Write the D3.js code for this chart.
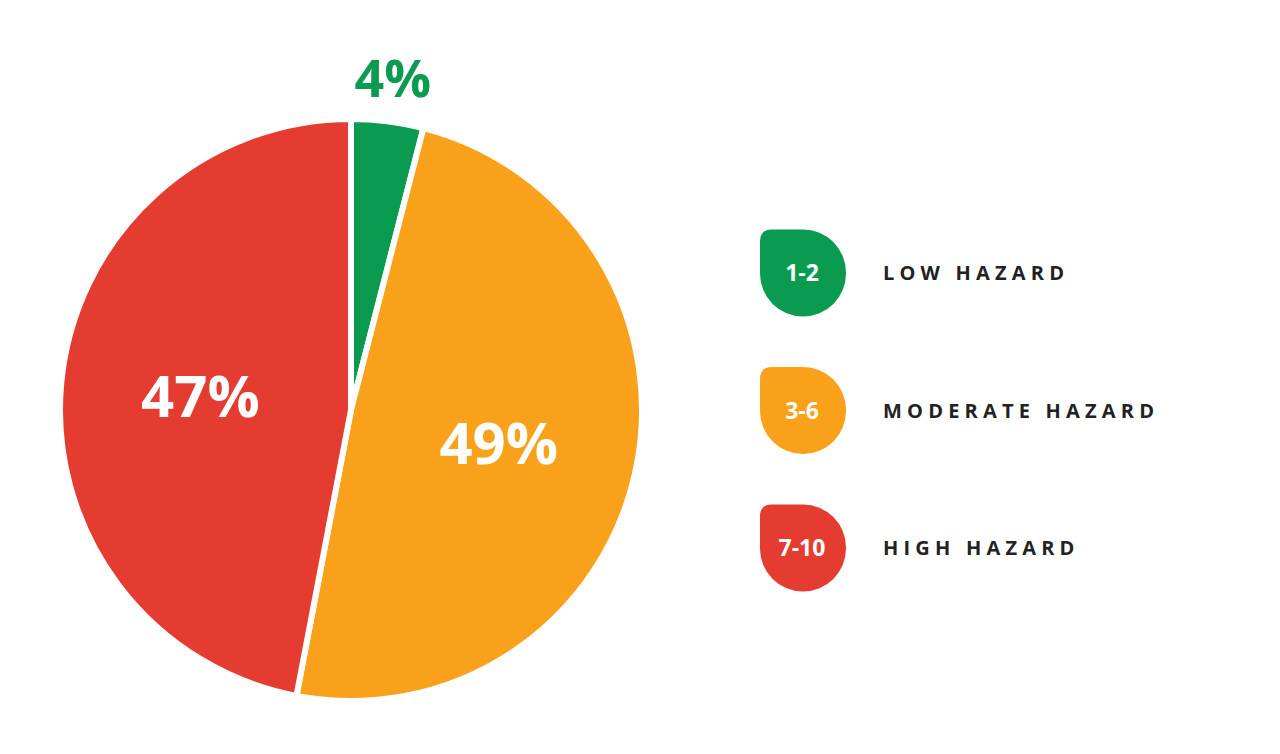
<!DOCTYPE html>
<html><head><meta charset="utf-8">
<script src="https://cdn.jsdelivr.net/npm/d3@7"></script>
<style>body{margin:0;background:#fff}svg{display:block}</style>
</head><body>
<script>
// hazard share data
var ranges = ["1-2", "3-6", "7-10"];
var labels = ["LOW HAZARD", "MODERATE HAZARD", "HIGH HAZARD"];
var values = [4, 49, 47];
var colors = ["#0b9b50", "#f9a11b", "#e43c30"];

var svg = d3.select("body").append("svg").attr("width", 1280).attr("height", 754);
var cx = 351, cy = 410, r = 291;

var pie = d3.pie().sort(null)(values);
var arc = d3.arc().innerRadius(0).outerRadius(r);
var g = svg.append("g").attr("transform", "translate(" + cx + "," + cy + ")");
g.selectAll("path").data(pie).enter().append("path")
    .attr("d", arc)
    .attr("fill", function(d, i) { return colors[i]; })
    .attr("stroke", "#fff").attr("stroke-width", 6).attr("stroke-linejoin", "round");

// labels: small slice outside, others inside
var inner = d3.arc().innerRadius(r * 0.52).outerRadius(r * 0.52);
var outer = d3.arc().innerRadius(r + 43).outerRadius(r + 43);
g.selectAll("text").data(pie).enter().append("text")
    .attr("transform", function(d, i) {
        var c = (i == 0 ? outer : inner).centroid(d);
        return "translate(" + c[0] + "," + c[1] + ")";
    })
    .attr("text-anchor", "middle").attr("dy", "0.36em")
    .attr("font-family", "Open Sans").attr("font-weight", 700)
    .attr("font-size", function(d, i) { return i == 0 ? 52 : 58; })
    .attr("fill", function(d, i) { return i == 0 ? colors[0] : "#fff"; })
    .text(function(d) { return d.value + "%"; });

// legend
var y = d3.scaleLinear().domain([0, 2]).range([273, 548]);
var w = 86, h = 87, rs = 12, rb = 43;
function badge() {
    // small radius top-left, big on the others
    return "M0," + rs + "Q0,0 " + rs + ",0L" + (w - rb) + ",0A" + rb + "," + rb + " 0 0 1 " + w + "," + rb +
        "L" + w + "," + (h - rb) + "A" + rb + "," + rb + " 0 0 1 " + (w - rb) + "," + h +
        "L" + rb + "," + h + "A" + rb + "," + rb + " 0 0 1 0," + (h - rb) + "Z";
}
var lg = svg.selectAll(".lg").data(ranges).enter().append("g")
    .attr("transform", function(d, i) { return "translate(760," + (y(i) - h / 2) + ")"; });
lg.append("path").attr("d", badge()).attr("fill", function(d, i) { return colors[i]; });
lg.append("text").attr("x", w / 2 - 1).attr("y", h / 2).attr("dy", "0.36em")
    .attr("text-anchor", "middle").attr("fill", "#fff")
    .attr("font-family", "Open Sans").attr("font-weight", 700).attr("font-size", 23)
    .text(function(d) { return d; });
lg.append("text").attr("x", 123).attr("y", h / 2).attr("dy", "0.36em")
    .attr("fill", "#222").attr("font-family", "Open Sans").attr("font-weight", 700)
    .attr("font-size", 20).attr("letter-spacing", 5.2)
    .text(function(d, i) { return labels[i]; });
</script>
</body></html>
